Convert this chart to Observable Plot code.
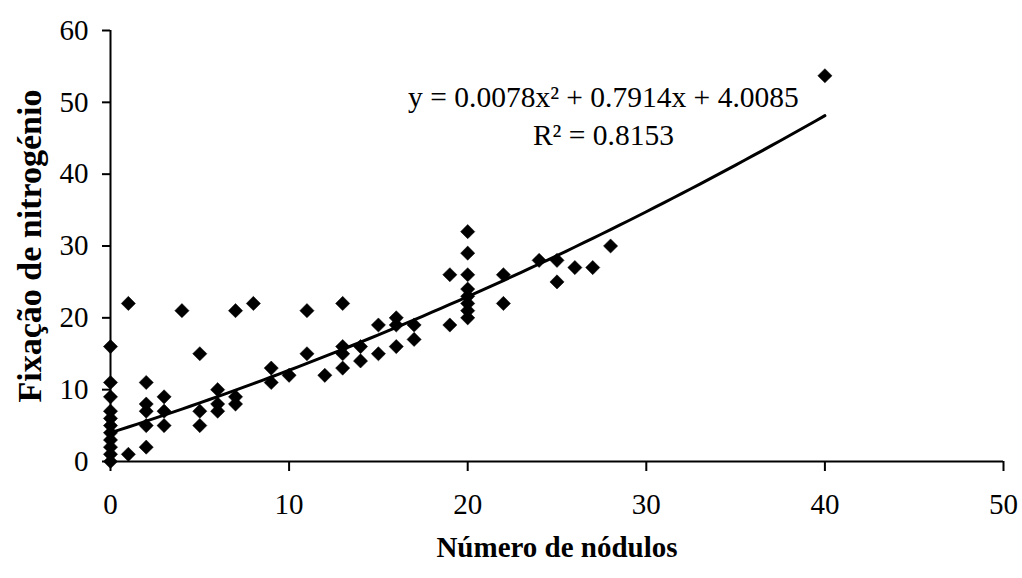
<!DOCTYPE html>
<html>
<head>
<meta charset="utf-8">
<script src="https://cdn.jsdelivr.net/npm/d3@7"></script>
<script src="https://cdn.jsdelivr.net/npm/@observablehq/plot@0.6"></script>
<style>
  html, body { margin: 0; padding: 0; background: #fff; }
  #chart { width: 1022px; height: 578px; }
</style>
</head>
<body>
<div id="chart"></div>
<script>
// Number of nodules (x) and nitrogen fixation (y), one entry per point
const nodulos = [
  0,0,0,0,0,0,0,0,0,0,0,
  1,1,
  2,2,2,2,2,
  3,3,3,
  4,
  5,5,5,
  6,6,6,
  7,7,7,
  8,
  9,9,
  10,
  11,11,
  12,
  13,13,13,13,
  14,14,
  15,15,
  16,16,16,
  17,17,
  19,19,
  20,20,20,20,20,20,20,20,
  22,22,
  24,
  25,25,
  26,
  27,
  28,
  40
];
const fixacao = [
  0,1,2,3,4,5,6,7,9,11,16,
  1,22,
  2,5,7,8,11,
  5,7,9,
  21,
  5,7,15,
  7,8,10,
  8,9,21,
  22,
  11,13,
  12,
  15,21,
  12,
  13,15,16,22,
  14,16,
  15,19,
  16,19,20,
  17,19,
  19,26,
  20,21,22,23,24,26,29,32,
  22,26,
  28,
  25,28,
  27,
  27,
  30,
  53.7
];

// Polynomial trend line coefficients as printed on the chart: [c, b, a]
const coef = [4.0085, 0.7914, 0.0078];
const fitRange = [0, 40];
const xTicks = [0, 10, 20, 30, 40, 50];
const yTicks = [0, 10, 20, 30, 40, 50, 60];
const eqLines = ["y = 0.0078x² + 0.7914x + 4.0085", "R² = 0.8153"];
const eqPos = [{x: 27.6, y: 49.3}, {x: 27.6, y: 44.0}];
const xTitle = "Número de nódulos";
const yTitle = "Fixação de nitrogénio";

const points = nodulos.map((x, i) => ({x, y: fixacao[i]}));
const fit = d3.range(fitRange[0], fitRange[1] + 0.001, 0.5)
  .map(x => ({x, y: coef[0] + coef[1] * x + coef[2] * x * x}));
const eq = eqLines.map((t, i) => ({...eqPos[i], t}));

const chart = Plot.plot({
  width: 1022,
  height: 578,
  marginLeft: 110,
  marginRight: 19,
  marginTop: 30,
  marginBottom: 117,
  style: {fontFamily: "'Liberation Serif', 'Times New Roman', serif", fontSize: "29px", color: "#000", background: "#fff"},
  x: {domain: [0, 50], ticks: xTicks},
  y: {domain: [0, 60], ticks: yTicks},
  marks: [
    Plot.axisX({ticks: xTicks, tickSize: 10, tickPadding: 22, fontSize: 29, label: null, stroke: "#000", strokeWidth: 2, strokeOpacity: 1}),
    Plot.axisY({ticks: yTicks, tickSize: 8, tickPadding: 14, fontSize: 29, label: null, stroke: "#000", strokeWidth: 2, strokeOpacity: 1}),
    Plot.ruleY([0], {stroke: "#000", strokeWidth: 2}),
    Plot.ruleX([0], {stroke: "#000", strokeWidth: 2}),
    Plot.line(fit, {x: "x", y: "y", stroke: "#000", strokeWidth: 3}),
    Plot.dot(points, {x: "x", y: "y", symbol: "diamond2", r: 6.4, fill: "#000", stroke: "#000", strokeWidth: 0.5}),
    Plot.text(eq, {x: "x", y: "y", text: "t", fontSize: 29.5, lineAnchor: "bottom", fill: "#000"}),
    Plot.text([xTitle], {frameAnchor: "bottom", dy: 95, fontSize: 29, fontWeight: "bold", fill: "#000"}),
    Plot.text([yTitle], {frameAnchor: "left", dx: -80, rotate: -90, textAnchor: "middle", fontSize: 34, fontWeight: "bold", fill: "#000"})
  ]
});
document.getElementById("chart").appendChild(chart);
</script>
</body>
</html>
